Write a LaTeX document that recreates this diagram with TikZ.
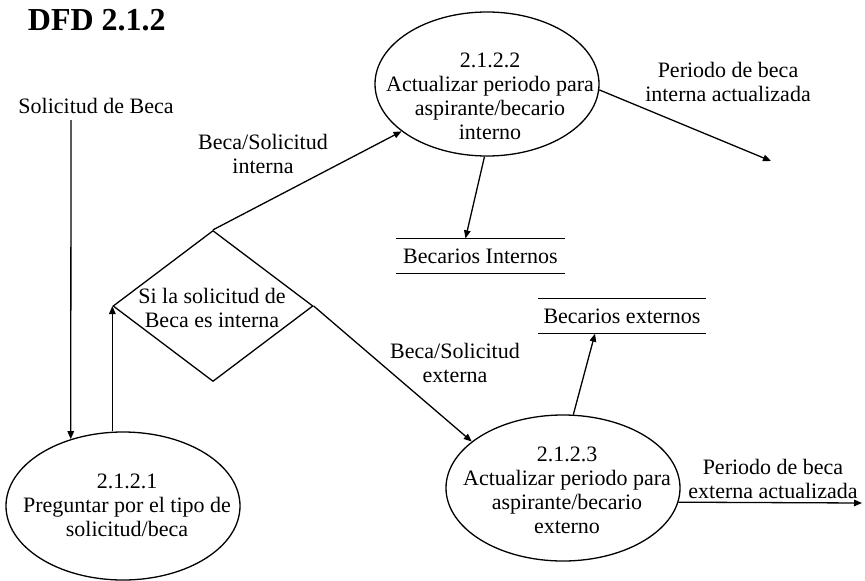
\documentclass[tikz,border=0pt]{standalone}
\usepackage{fontspec}
\setmainfont{Liberation Serif}
\usetikzlibrary{shapes.geometric,arrows.meta}

\begin{document}
\begin{tikzpicture}[x=1pt,y=-1pt,
  line width=1.3pt,
  every node/.style={font=\rmfamily\fontsize{22}{24}\selectfont},
  proc/.style={ellipse,draw,inner sep=0pt},
  txt/.style={align=center,inner sep=0pt},
  store/.style={inner sep=0pt,minimum height=34pt},
  flow/.style={-{Triangle[length=8pt,width=6.5pt]}}
]
\useasboundingbox (0,0) rectangle (865,581);

% title
\node[anchor=base west,font=\rmfamily\bfseries\fontsize{32}{32}\selectfont] (title) at (24,30) {DFD 2.1.2};

% processes
\node[proc,minimum width=234pt,minimum height=148pt] (p1) at (123,506) {};
\node[txt] (p1t) at (127,505) {2.1.2.1\\Preguntar por el tipo de\\solicitud/beca};

\node[proc,minimum width=224pt,minimum height=144pt] (p2) at (487,84) {};
\node[txt] (p2t) at (490,96) {2.1.2.2\\Actualizar periodo para\\aspirante/becario\\interno};

\node[proc,minimum width=234pt,minimum height=146pt] (p3) at (563,488) {};
\node[txt] (p3t) at (567,490) {2.1.2.3\\Actualizar periodo para\\aspirante/becario\\externo};

% decision
\node[diamond,draw,inner sep=0pt,minimum width=200pt,minimum height=151pt] (dec) at (213,306) {};
\node[txt] (dect) at (212,308) {Si la solicitud de\\Beca es interna};

% data stores
\node[store,minimum width=167pt] (si) at (480.5,256) {Becarios Internos};
\draw (si.north west) -- (si.north east);
\draw (si.south west) -- (si.south east);

\node[store,minimum width=166pt] (se) at (622,316) {Becarios externos};
\draw (se.north west) -- (se.north east);
\draw (se.south west) -- (se.south east);

% external flow ends
\node[txt] (src) at (96,106) {Solicitud de Beca};
\coordinate (srcTop) at (71,120);
\coordinate (outI) at (771,161);
\coordinate (outE) at (862,503);

% flow labels
\node[txt] (lbI) at (263,154) {Beca/Solicitud\\interna};
\node[txt] (lbE) at (455,363) {Beca/Solicitud\\externa};
\node[txt] (lbPI) at (728,82) {Periodo de beca\\interna actualizada};
\node[txt] (lbPE) at (773,479) {Periodo de beca\\externa actualizada};

% flows
\draw[flow] (srcTop) -- (p1.128);
\draw[flow] (dec.west |- p1.north) -- (dec.west);
\draw[flow] (dec.north) -- (p2.209);
\draw[flow] (dec.east) -- (p3.153);
\draw[flow] (p2.268) -- ([xshift=-15pt]si.north);
\draw[flow] (p3.82) -- ([xshift=-27pt]se.south);
\draw[flow] (p2.-3) -- (outI);
\draw[flow] (p3.-7.5) -- (outE);
\end{tikzpicture}
\end{document}
